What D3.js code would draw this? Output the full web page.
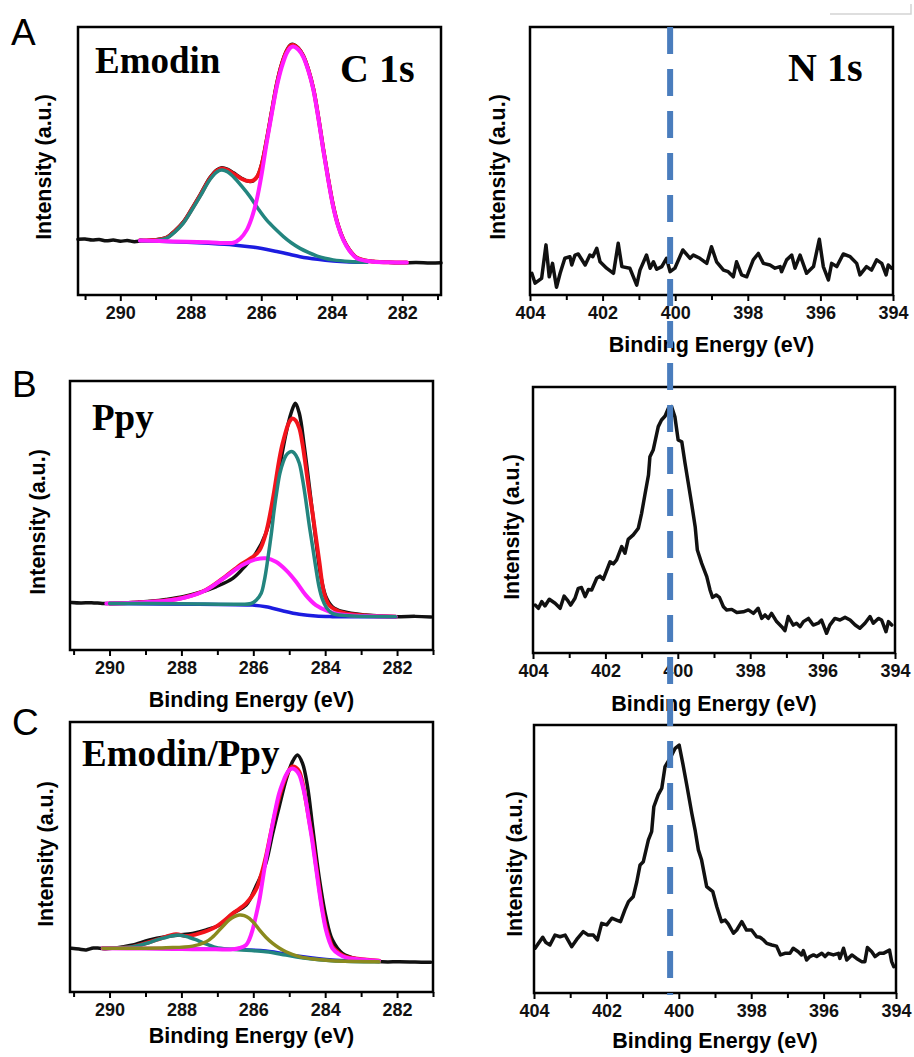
<!DOCTYPE html>
<html>
<head>
<meta charset="utf-8">
<script src="https://cdn.jsdelivr.net/npm/d3@7"></script>
<style>
    html, body { margin: 0; padding: 0; background: #fff; }
    svg { display: block; }
    .tick-label { font-family: "Liberation Sans", Arial, sans-serif; font-weight: bold; font-size: 18px; }
    .axis-title { font-family: "Liberation Sans", Arial, sans-serif; font-weight: bold; font-size: 21.5px; }
    .note { font-family: "Liberation Serif", "Times New Roman", serif; font-weight: bold; }
    .letter { font-family: "Liberation Sans", Arial, sans-serif; font-size: 37px; }
</style>
</head>
<body>
<div id="chart"></div>
<script>
// Tick values
const c1sTicks = [290, 288, 286, 284, 282];
const c1sMinor = [291, 289, 287, 285, 283, 281];
const n1sTicks = [404, 402, 400, 398, 396, 394];
const n1sMinor = [403, 401, 399, 397, 395];
const n1sMarker = 400.14; // dashed reference line (eV)

// ---- A: Emodin C 1s  [binding energy, intensity a.u.]
const emodinC1sRaw = [[291.2, 20.8], [291.0, 20.9], [290.8, 20.5], [290.6, 20.7], [290.4, 20.2], [290.2, 20.5], [290.0, 20.1],
    [289.8, 20.3], [289.6, 19.9], [289.4, 20.2], [289.0, 20.6], [288.68, 21.5], [288.45, 24.0], [288.21, 27.3], [287.98, 32.0],
    [287.74, 37.3], [287.45, 43.9], [287.25, 46.8], [287.12, 47.5], [286.95, 46.9], [286.79, 45.6], [286.55, 43.5], [286.35, 42.4],
    [286.22, 42.6], [286.1, 44.6], [285.99, 48.8], [285.85, 57.8], [285.7, 68.9], [285.56, 79.0], [285.42, 86.3], [285.28, 91.2],
    [285.18, 93.2], [285.09, 93.5], [284.95, 92.2], [284.81, 89.4], [284.66, 84.0], [284.52, 77.0], [284.38, 66.5], [284.24, 54.6],
    [284.1, 43.5], [283.96, 33.4], [283.82, 26.1], [283.67, 20.8], [283.5, 16.9], [283.29, 13.9], [283.05, 12.9], [282.82, 12.5],
    [282.4, 12.2], [282.0, 12.0], [281.6, 12.1], [281.2, 11.9], [280.9, 12.0]];
const emodinC1sEnvelope = [[289.44, 20.4], [289.0, 20.5], [288.68, 21.4], [288.45, 23.8], [288.21, 27.1], [287.98, 31.8],
    [287.74, 37.0], [287.45, 43.6], [287.25, 46.5], [287.12, 47.2], [286.95, 46.6], [286.79, 45.3], [286.55, 43.3], [286.35, 42.5],
    [286.22, 42.8], [286.1, 44.5], [285.99, 48.5], [285.85, 57.5], [285.7, 68.5], [285.56, 78.5], [285.42, 86.0], [285.28, 91.0],
    [285.18, 93.0], [285.09, 93.3], [284.95, 92.0], [284.81, 89.2], [284.66, 83.8], [284.52, 76.8], [284.38, 66.3], [284.24, 54.4],
    [284.1, 43.3], [283.96, 33.3], [283.82, 26.0], [283.67, 20.7], [283.5, 16.8], [283.29, 13.9], [283.05, 12.9], [282.82, 12.5],
    [282.4, 12.2], [281.87, 12.1]];
const emodinC1sBackground = [[289.44, 20.3], [288.5, 19.9], [287.5, 19.3], [286.79, 18.7], [286.2, 17.8], [285.56, 16.2],
    [285.2, 15.2], [284.9, 14.3], [284.4, 13.3], [283.96, 12.7], [283.5, 12.35], [283.0, 12.2]];
const emodinC1sPeak1 = [[289.44, 20.3], [289.0, 20.3], [288.68, 21.2], [288.45, 23.5], [288.21, 26.8], [287.98, 31.5],
    [287.74, 36.7], [287.45, 43.2], [287.25, 46.0], [287.12, 46.6], [286.95, 45.9], [286.79, 44.1], [286.55, 40.5], [286.32, 36.7],
    [286.08, 32.0], [285.85, 28.0], [285.6, 24.6], [285.37, 21.8], [285.15, 19.5], [284.9, 17.4], [284.65, 15.8], [284.43, 14.6],
    [284.2, 13.7], [283.96, 13.1], [283.5, 12.5], [283.0, 12.2]];
const emodinC1sPeak2 = [[289.44, 20.3], [288.5, 20.0], [287.5, 19.7], [287.0, 19.4], [286.79, 19.5], [286.6, 21.0],
    [286.41, 24.3], [286.27, 28.8], [286.13, 35.4], [285.99, 45.0], [285.85, 56.6], [285.7, 67.8], [285.56, 77.7], [285.42, 85.0],
    [285.28, 90.2], [285.18, 92.2], [285.09, 92.7], [284.95, 91.6], [284.81, 88.9], [284.66, 83.5], [284.52, 76.5], [284.38, 66.0],
    [284.24, 54.1], [284.1, 43.0], [283.96, 33.0], [283.82, 25.8], [283.67, 20.5], [283.5, 16.6], [283.29, 13.7], [283.05, 12.8],
    [282.82, 12.4], [282.4, 12.2], [281.87, 12.1]];

// ---- A: Emodin N 1s
const emodinN1s = [[403.95, 8.1], [403.86, 4.4], [403.68, 6.2], [403.56, 18.7], [403.47, 6.8], [403.38, 11.8], [403.27, 2.9],
    [403.17, 8.1], [403.04, 13.7], [402.90, 14.3], [402.85, 11.2], [402.76, 14.9], [402.67, 15.3], [402.48, 11.2], [402.35, 14.9],
    [402.27, 14.3], [402.16, 17.4], [402.07, 12.4], [401.89, 10.0], [401.70, 8.1], [401.57, 19.3], [401.47, 10.6], [401.25, 10.0],
    [401.06, 3.7], [400.97, 9.3], [400.79, 14.9], [400.69, 10.0], [400.60, 12.4], [400.51, 9.6], [400.37, 10.6], [400.24, 13.7],
    [400.14, 8.7], [400.01, 10.0], [399.79, 16.8], [399.59, 13.7], [399.50, 14.9], [399.32, 13.7], [399.13, 11.8], [399.00, 18.0],
    [398.86, 12.4], [398.67, 9.3], [398.54, 8.7], [398.40, 6.8], [398.31, 12.4], [398.17, 7.5], [398.03, 6.8], [397.85, 13.1],
    [397.71, 15.5], [397.57, 11.8], [397.39, 11.2], [397.25, 10.0], [397.11, 10.6], [397.07, 8.7], [396.93, 13.1], [396.79, 14.9],
    [396.70, 10.0], [396.56, 14.9], [396.38, 8.1], [396.19, 10.6], [396.03, 20.8], [395.92, 10.6], [395.78, 5.6], [395.69, 11.8],
    [395.55, 10.6], [395.37, 15.3], [395.18, 14.3], [395.00, 11.8], [394.91, 7.5], [394.73, 10.6], [394.59, 9.3], [394.45, 13.1],
    [394.31, 11.8], [394.19, 7.5], [394.13, 11.2], [394.04, 10.0]];

// ---- B: Ppy C 1s
const ppyC1sRaw = [[291.06, 17.7], [290.8, 17.5], [290.5, 17.6], [290.2, 17.3], [290.0, 17.3], [289.6, 17.5], [289.2, 17.8],
    [288.8, 18.2], [288.43, 18.8], [287.96, 19.8], [287.5, 21.4], [287.04, 23.5], [286.57, 26.6], [286.2, 31.6], [285.93, 35.9],
    [285.65, 43.4], [285.46, 53.3], [285.28, 66.9], [285.09, 80.5], [284.95, 88.0], [284.83, 91.7], [284.72, 88.0], [284.58, 75.6],
    [284.44, 60.7], [284.26, 40.9], [284.12, 27.3], [283.98, 19.8], [283.8, 16.1], [283.52, 14.3], [282.87, 13.0], [281.94, 12.4],
    [281.5, 12.5], [281.05, 12.3]];
const ppyC1sEnvelope = [[290.0, 17.3], [289.35, 17.6], [288.43, 18.4], [287.87, 19.7], [287.31, 22.4], [286.76, 27.5],
    [286.3, 32.2], [286.02, 34.5], [285.83, 37.0], [285.65, 43.4], [285.46, 55.8], [285.28, 70.6], [285.18, 77.0], [285.0, 84.8],
    [284.91, 86.1], [284.82, 85.3], [284.72, 82.5], [284.63, 76.5], [284.54, 68.2], [284.45, 59.5], [284.35, 50.8], [284.17, 33.5],
    [284.03, 21.1], [283.89, 16.7], [283.61, 14.3], [283.06, 13.0], [282.04, 12.4]];
const ppyC1sBackground = [[290.0, 17.3], [287.5, 17.0], [286.02, 16.7], [285.65, 16.1], [285.19, 14.6], [284.72, 13.3],
    [284.26, 12.6], [283.8, 12.4], [282.04, 12.4]];
const ppyC1sPeak1 = [[290.0, 17.3], [288.0, 17.2], [286.5, 17.0], [286.06, 17.3], [285.92, 18.5], [285.78, 21.1], [285.69, 26.0],
    [285.6, 33.5], [285.5, 43.0], [285.42, 52.0], [285.34, 59.5], [285.26, 65.7], [285.17, 69.8], [285.09, 72.3], [285.0, 73.5],
    [284.91, 73.7], [284.82, 72.5], [284.72, 69.4], [284.63, 63.5], [284.54, 55.8], [284.45, 47.0], [284.35, 38.4], [284.26, 30.5],
    [284.17, 23.5], [284.08, 19.0], [283.98, 16.1], [283.8, 13.6], [283.43, 12.8], [282.04, 12.4]];
const ppyC1sPeak2 = [[290.09, 17.3], [289.35, 17.6], [288.43, 18.3], [287.87, 19.6], [287.31, 22.3], [286.76, 27.3],
    [286.3, 31.6], [285.93, 33.7], [285.65, 34.1], [285.37, 32.8], [285.09, 29.7], [284.81, 25.4], [284.54, 20.4], [284.26, 16.7],
    [283.89, 14.3], [283.43, 13.0], [282.87, 12.6], [282.04, 12.4]];

// ---- B: Ppy N 1s
const ppyN1s = [[403.94, 18.0], [403.85, 16.8], [403.76, 19.3], [403.67, 17.7], [403.55, 20.2], [403.39, 18.7], [403.25, 16.8],
    [403.14, 21.4], [403.05, 19.9], [402.96, 18.0], [402.84, 20.6], [402.75, 24.3], [402.66, 24.6], [402.56, 21.2], [402.47, 23.9],
    [402.38, 23.7], [402.24, 28.1], [402.15, 28.9], [402.06, 27.7], [401.87, 34.3], [401.78, 33.5], [401.69, 35.0], [401.55, 40.0],
    [401.46, 37.5], [401.37, 42.7], [401.23, 44.4], [401.09, 46.9], [401.00, 52.5], [400.91, 59.4], [400.81, 66.9], [400.77, 73.8],
    [400.68, 76.3], [400.54, 85.1], [400.45, 87.6], [400.35, 89.1], [400.26, 92.0], [400.17, 92.6], [400.08, 88.8], [399.99, 80.1],
    [399.89, 79.4], [399.80, 71.3], [399.71, 63.8], [399.62, 56.3], [399.52, 47.5], [399.46, 38.7], [399.34, 33.7], [399.20, 28.7],
    [399.11, 23.7], [399.04, 20.9], [398.94, 21.8], [398.85, 20.9], [398.74, 17.4], [398.65, 16.2], [398.51, 16.4], [398.37, 15.2],
    [398.19, 15.5], [398.05, 16.2], [397.91, 14.9], [397.78, 16.8], [397.68, 13.0], [397.59, 14.3], [397.50, 13.0], [397.41, 14.9],
    [397.27, 11.8], [397.13, 9.9], [397.04, 8.4], [396.95, 13.7], [396.81, 10.5], [396.72, 11.2], [396.62, 9.9], [396.53, 11.8],
    [396.39, 13.0], [396.26, 10.5], [396.12, 11.2], [396.03, 12.4], [395.89, 7.4], [395.80, 10.5], [395.66, 13.0], [395.52, 12.4],
    [395.38, 13.4], [395.24, 12.4], [395.10, 10.5], [394.97, 9.3], [394.83, 11.2], [394.69, 13.7], [394.60, 11.2], [394.46, 13.0],
    [394.37, 12.4], [394.25, 8.0], [394.18, 11.8], [394.09, 10.5]];

// ---- C: Emodin/Ppy C 1s
const compC1sRaw = [[291.06, 16.2], [290.85, 15.9], [290.65, 15.6], [290.45, 16.3], [290.28, 16.2], [290.1, 16.0], [289.91, 16.2],
    [289.6, 16.8], [289.35, 17.4], [288.89, 19.3], [288.43, 20.5], [288.06, 21.1], [287.69, 21.7], [287.31, 23.0], [286.94, 24.8],
    [286.57, 29.1], [286.2, 32.2], [285.93, 39.0], [285.65, 47.7], [285.46, 58.8], [285.28, 68.6], [285.09, 78.5], [284.91, 85.3],
    [284.77, 87.8], [284.63, 84.7], [284.49, 76.0], [284.35, 61.2], [284.17, 42.7], [283.98, 27.9], [283.8, 19.3], [283.52, 14.3],
    [283.06, 12.1], [282.41, 11.2], [281.94, 11.2], [281.5, 11.1], [281.06, 11.0]];
const compC1sEnvelope = [[290.19, 16.2], [289.35, 16.8], [288.7, 19.3], [288.15, 21.4], [287.87, 20.7], [287.5, 21.7],
    [287.04, 24.2], [286.57, 29.1], [286.2, 32.8], [285.93, 37.8], [285.79, 43.0], [285.65, 50.1], [285.51, 59.0], [285.37, 67.4],
    [285.23, 74.5], [285.09, 79.8], [285.0, 82.3], [284.91, 83.5], [284.82, 83.2], [284.72, 81.6], [284.63, 77.5], [284.54, 71.1],
    [284.45, 64.0], [284.35, 56.3], [284.26, 47.5], [284.17, 39.0], [284.08, 31.0], [283.98, 24.2], [283.89, 20.0], [283.8, 16.8],
    [283.62, 14.5], [283.43, 13.1], [282.5, 11.6]];
const compC1sBackground = [[290.19, 16.2], [286.57, 15.8], [285.65, 15.3], [284.72, 13.3], [283.8, 11.9], [282.5, 11.5]];
const compC1sPeak1 = [[290.19, 16.2], [289.35, 16.8], [288.89, 18.3], [288.66, 19.4], [288.43, 20.2], [288.26, 20.8],
    [288.1, 21.1], [287.94, 20.8], [287.78, 20.2], [287.6, 19.4], [287.41, 18.3], [287.04, 16.5], [286.57, 15.8], [285.65, 14.9],
    [285.09, 13.7], [284.54, 12.5], [283.8, 11.6], [282.5, 11.2]];
const compC1sPeak2 = [[290.19, 16.2], [288.43, 16.4], [287.69, 17.0], [287.31, 18.6], [287.12, 20.5], [286.94, 23.0],
    [286.8, 25.0], [286.67, 26.7], [286.53, 27.9], [286.39, 28.5], [286.25, 28.3], [286.11, 27.3], [285.97, 25.4], [285.83, 23.0],
    [285.65, 20.3], [285.46, 18.0], [285.28, 16.3], [285.09, 14.9], [284.72, 13.1], [284.26, 12.1], [283.8, 11.6], [282.5, 11.2]];
const compC1sPeak3 = [[290.19, 16.2], [289.0, 16.1], [288.0, 15.9], [287.04, 15.8], [286.57, 15.8], [286.38, 16.3], [286.2, 17.4],
    [286.11, 19.5], [286.02, 23.0], [285.93, 28.0], [285.83, 34.1], [285.74, 41.5], [285.65, 48.9], [285.55, 56.0], [285.46, 62.5],
    [285.37, 68.5], [285.28, 73.6], [285.18, 77.5], [285.09, 80.4], [285.0, 82.2], [284.91, 82.8], [284.82, 82.2], [284.72, 80.4],
    [284.63, 76.5], [284.54, 71.1], [284.45, 63.5], [284.35, 55.1], [284.26, 46.5], [284.17, 37.8], [284.08, 30.0], [283.98, 23.0],
    [283.89, 19.0], [283.8, 16.2], [283.62, 14.0], [283.43, 12.8], [283.0, 12.0], [282.5, 11.5]];

// ---- C: Emodin/Ppy N 1s
const compN1s = [[403.97, 16.7], [403.88, 18.5], [403.76, 20.8], [403.67, 18.8], [403.56, 17.9], [403.42, 21.6], [403.28, 21.0],
    [403.14, 21.6], [402.96, 17.3], [402.82, 20.0], [402.64, 22.9], [402.50, 21.6], [402.36, 21.6], [402.25, 19.8], [402.13, 26.0],
    [401.99, 25.4], [401.85, 27.9], [401.72, 27.2], [401.61, 26.6], [401.49, 31.0], [401.39, 34.1], [401.26, 35.9], [401.16, 41.5],
    [401.07, 47.8], [400.98, 49.0], [400.84, 57.1], [400.75, 60.2], [400.69, 69.5], [400.57, 73.9], [400.47, 76.4], [400.38, 84.5],
    [400.24, 87.6], [400.10, 91.3], [399.99, 92.5], [399.89, 85.7], [399.78, 77.6], [399.64, 67.0], [399.55, 60.8], [399.46, 53.4],
    [399.37, 49.6], [399.23, 39.7], [399.06, 37.8], [398.95, 32.2], [398.82, 26.6], [398.72, 27.2], [398.63, 25.7], [398.49, 22.3],
    [398.40, 23.5], [398.26, 26.6], [398.13, 23.5], [397.99, 23.5], [397.85, 21.0], [397.76, 20.8], [397.66, 19.8], [397.57, 18.5],
    [397.43, 17.9], [397.30, 17.5], [397.19, 14.2], [397.07, 14.8], [396.93, 14.8], [396.84, 16.7], [396.70, 15.4], [396.61, 14.2],
    [396.56, 15.8], [396.47, 12.3], [396.38, 13.6], [396.28, 14.2], [396.19, 13.6], [396.05, 14.8], [395.96, 13.6], [395.87, 14.8],
    [395.73, 14.2], [395.59, 14.8], [395.55, 12.9], [395.45, 16.7], [395.36, 12.3], [395.22, 14.2], [395.09, 12.9], [394.95, 11.7],
    [394.86, 11.7], [394.79, 17.0], [394.67, 15.4], [394.58, 13.6], [394.46, 14.8], [394.35, 14.8], [394.18, 16.0], [394.12, 11.7],
    [394.06, 9.8]];

const COLORS = {
    raw: "#111111",
    envelope: "#f2141c",
    background: "#1c1ce0",
    teal: "#23857f",
    olive: "#8a8a1e",
    magenta: "#ff1cff",
    marker: "#4a7dbd"
};

const width = 914, height = 1057;

const svg = d3.select("#chart").append("svg")
    .attr("width", width)
    .attr("height", height);

// Panels: C 1s on the left, N 1s on the right
const panels = [
    { box: [78, 27, 441, 295], domain: [291.2, 280.9], major: c1sTicks, minor: c1sMinor,
      yTitle: [51, 167], xTitle: null,
      fit: true, curves: [
        { data: emodinC1sRaw, color: COLORS.raw, w: 3.5 },
        { data: emodinC1sEnvelope, color: COLORS.envelope, w: 4 },
        { data: emodinC1sBackground, color: COLORS.background, w: 3.5 },
        { data: emodinC1sPeak1, color: COLORS.teal, w: 3.5 },
        { data: emodinC1sPeak2, color: COLORS.magenta, w: 4 }
      ] },
    { box: [530, 27, 893, 295], domain: [404, 394], major: n1sTicks, minor: n1sMinor,
      yTitle: [505, 167], xTitle: 352,
      fit: false, curves: [{ data: emodinN1s, color: COLORS.raw, w: 3.5 }] },
    { box: [70, 381, 433, 650], domain: [291.1, 281], major: c1sTicks, minor: c1sMinor,
      yTitle: [45, 522], xTitle: 707,
      fit: true, curves: [
        { data: ppyC1sRaw, color: COLORS.raw, w: 3.5 },
        { data: ppyC1sEnvelope, color: COLORS.envelope, w: 4 },
        { data: ppyC1sBackground, color: COLORS.background, w: 3.5 },
        { data: ppyC1sPeak2, color: COLORS.magenta, w: 4 },
        { data: ppyC1sPeak1, color: COLORS.teal, w: 3.5 }
      ] },
    { box: [533, 387, 895, 653], domain: [404, 394], major: n1sTicks, minor: n1sMinor,
      yTitle: [519, 527], xTitle: 711,
      fit: false, curves: [{ data: ppyN1s, color: COLORS.raw, w: 3.5 }] },
    { box: [70, 722, 433, 992], domain: [291.1, 281], major: c1sTicks, minor: c1sMinor,
      yTitle: [53, 854], xTitle: 1043,
      fit: true, curves: [
        { data: compC1sRaw, color: COLORS.raw, w: 3.5 },
        { data: compC1sEnvelope, color: COLORS.envelope, w: 4 },
        { data: compC1sBackground, color: COLORS.background, w: 3 },
        { data: compC1sPeak1, color: COLORS.teal, w: 3.5 },
        { data: compC1sPeak3, color: COLORS.magenta, w: 4 },
        { data: compC1sPeak2, color: COLORS.olive, w: 3.5 }
      ] },
    { box: [534, 725, 896, 993], domain: [404, 394], major: n1sTicks, minor: n1sMinor,
      yTitle: [522, 864], xTitle: 1048,
      fit: false, curves: [{ data: compN1s, color: COLORS.raw, w: 3.5 }] }
];

const scales = panels.map(drawPanel);

function drawPanel(p) {
    const [x0, y0, x1, y1] = p.box;
    const x = d3.scaleLinear().domain(p.domain).range([x0, x1]);
    const y = d3.scaleLinear().domain([0, 100]).range([y1, y0]);
    const g = svg.append("g");

    // Curves
    const line = d3.line()
        .x(d => x(d[0]))
        .y(d => y(d[1]))
        .curve(p.fit ? d3.curveCatmullRom.alpha(0.5) : d3.curveLinear);

    p.curves.forEach(c => {
        g.append("path")
            .datum(c.data)
            .attr("d", line)
            .attr("fill", "none")
            .attr("stroke", c.color)
            .attr("stroke-width", c.w)
            .attr("stroke-linejoin", "round")
            .attr("stroke-linecap", "round");
    });

    // Minor ticks
    g.append("g")
        .attr("transform", `translate(0,${y1})`)
        .call(d3.axisBottom(x).tickValues(p.minor).tickSize(5).tickFormat(""))
        .call(a => a.select(".domain").remove())
        .selectAll("line").attr("stroke", "#000").attr("stroke-width", 2);

    // Major ticks + labels
    const ax = g.append("g")
        .attr("transform", `translate(0,${y1})`)
        .call(d3.axisBottom(x).tickValues(p.major).tickSize(6).tickPadding(5).tickFormat(d3.format("d")));
    ax.select(".domain").remove();
    ax.selectAll("line").attr("stroke", "#000").attr("stroke-width", 2);
    ax.selectAll("text")
        .attr("class", "tick-label")
        .attr("fill", "#111")
        .style("font-size", null);

    // Frame
    g.append("rect")
        .attr("x", x0).attr("y", y0)
        .attr("width", x1 - x0).attr("height", y1 - y0)
        .attr("fill", "none")
        .attr("stroke", "#000")
        .attr("stroke-width", 2.5);

    // Titles
    g.append("text")
        .attr("class", "axis-title")
        .attr("text-anchor", "middle")
        .attr("transform", `translate(${p.yTitle[0]},${p.yTitle[1]}) rotate(-90)`)
        .text("Intensity (a.u.)");

    if (p.xTitle !== null) {
        g.append("text")
            .attr("class", "axis-title")
            .attr("text-anchor", "middle")
            .attr("x", (x0 + x1) / 2)
            .attr("y", p.xTitle)
            .text("Binding Energy (eV)");
    }
    return { x, y };
}

// Dashed reference line through the N 1s column
const xRef = scales[1].x;
svg.append("line")
    .attr("x1", xRef(n1sMarker)).attr("x2", xRef(n1sMarker))
    .attr("y1", 27).attr("y2", 995)
    .attr("stroke", COLORS.marker)
    .attr("stroke-width", 6)
    .attr("stroke-dasharray", "27,15");

// Sample / core-level labels
const notes = [
    { t: "Emodin", x: 95, y: 73, s: 37 },
    { t: "C 1s", x: 340, y: 82, s: 40 },
    { t: "N 1s", x: 788, y: 81, s: 40 },
    { t: "Ppy", x: 92, y: 430, s: 37 },
    { t: "Emodin/Ppy", x: 82, y: 766, s: 37 }
];
svg.selectAll("text.note")
    .data(notes)
    .join("text")
    .attr("class", "note")
    .attr("x", d => d.x)
    .attr("y", d => d.y)
    .style("font-size", d => d.s + "px")
    .attr("fill", "#000")
    .text(d => d.t);

// Panel letters
svg.selectAll("text.letter")
    .data([{ t: "A", x: 11, y: 45 }, { t: "B", x: 12, y: 397 }, { t: "C", x: 12, y: 735 }])
    .join("text")
    .attr("class", "letter")
    .attr("x", d => d.x)
    .attr("y", d => d.y)
    .text(d => d.t);

// faint scan artefact at the top right of the figure
svg.append("path")
    .attr("d", "M830,14H911V4")
    .attr("fill", "none")
    .attr("stroke", "#d4d4d4")
    .attr("stroke-width", 1.5);
</script>
</body>
</html>
